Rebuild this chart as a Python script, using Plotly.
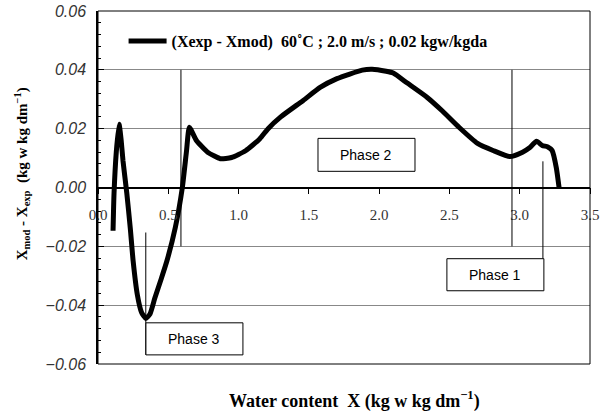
import plotly.graph_objects as go

# Water content X (kg w / kg dm)
x_vals = [0.107, 0.114, 0.13, 0.15, 0.165, 0.178, 0.205, 0.23, 0.25, 0.28, 0.31, 0.34,
          0.37, 0.405, 0.45, 0.49, 0.55, 0.60, 0.63, 0.65, 0.70, 0.78, 0.87, 0.95,
          1.05, 1.15, 1.21, 1.30, 1.46, 1.58, 1.70, 1.88, 1.95, 2.05, 2.10, 2.20,
          2.34, 2.45, 2.57, 2.70, 2.81, 2.93, 3.02, 3.07, 3.12, 3.16, 3.20, 3.23,
          3.26, 3.28]
# Xmod - Xexp
y_vals = [-0.0147, -0.002, 0.012, 0.0215, 0.016, 0.009, -0.002, -0.014, -0.025, -0.0365,
          -0.0425, -0.0445, -0.043, -0.0375, -0.031, -0.025, -0.0136, 0.0, 0.0126, 0.0205,
          0.016, 0.012, 0.0098, 0.0102, 0.0125, 0.0165, 0.020, 0.024, 0.0296, 0.034,
          0.037, 0.0399, 0.0402, 0.0395, 0.0389, 0.0355, 0.0307, 0.026, 0.0204, 0.015,
          0.0126, 0.0105, 0.012, 0.0135, 0.0157, 0.0143, 0.0138, 0.0126, 0.0068, 0.0]

series_name = "(Xexp - Xmod)  60˚C ; 2.0 m/s ; 0.02 kgw/kgda"
x_ticks = [0.0, 0.5, 1.0, 1.5, 2.0, 2.5, 3.0, 3.5]
x_tick_labels = ["0.0", "0.5", "1.0", "1.5", "2.0", "2.5", "3.0", "3.5"]
y_ticks = [-0.06, -0.04, -0.02, 0.0, 0.02, 0.04, 0.06]

# Phase separators: (x, y_top, y_bottom)
phase_lines = [(0.59, 0.04, -0.02), (2.945, 0.04, -0.02), (3.165, 0.0089, -0.0242), (0.34, -0.0153, -0.0569)]
# Phase boxes: (label, x0, x1, y0, y1)
phase_boxes = [("Phase 2", 1.565, 2.255, 0.0055, 0.0167),
               ("Phase 1", 2.482, 3.172, -0.0351, -0.0242),
               ("Phase 3", 0.341, 1.031, -0.0569, -0.046)]

serif = "Liberation Serif"
sans = "Liberation Sans"

fig = go.Figure()
fig.add_trace(go.Scatter(x=x_vals, y=y_vals, mode="lines", name=series_name,
                         line=dict(color="black", width=5, shape="spline", smoothing=0.5)))

shapes = []
annotations = []
for xv, y0, y1 in phase_lines:
    shapes.append(dict(type="line", xref="x", yref="y", x0=xv, x1=xv, y0=y0, y1=y1,
                       line=dict(color="black", width=1)))
for label, x0, x1, y0, y1 in phase_boxes:
    shapes.append(dict(type="rect", xref="x", yref="y", x0=x0, x1=x1, y0=y0, y1=y1,
                       line=dict(color="black", width=1), fillcolor="white", layer="above"))
    annotations.append(dict(text=label, x=(x0 + x1) / 2, y=(y0 + y1) / 2, xref="x", yref="y",
                            showarrow=False, font=dict(family=sans, size=14, color="black")))
# plot border
shapes.append(dict(type="rect", xref="paper", yref="paper", x0=0, x1=1, y0=0, y1=1,
                   line=dict(color="black", width=1)))

annotations.append(dict(text="Water content  X (kg w kg dm<sup>−1</sup>)", xref="paper", yref="paper",
                        x=0.522, y=-0.102, yanchor="middle", showarrow=False,
                        font=dict(family=serif, size=18, color="black", weight="bold")))
annotations.append(dict(text="X<sub>mod</sub> - X<sub>exp</sub>  (kg w kg dm<sup>−1</sup>)",
                        xref="paper", yref="paper", x=-0.1545, y=0.54, textangle=-90,
                        showarrow=False, xanchor="center", yanchor="middle",
                        font=dict(family=serif, size=15, color="black", weight="bold")))

fig.update_layout(
    width=602, height=417,
    margin=dict(l=98, r=12, t=11, b=53, autoexpand=False),
    paper_bgcolor="white", plot_bgcolor="white",
    showlegend=True,
    legend=dict(x=0.052, y=0.915, xanchor="left", yanchor="middle", bgcolor="rgba(0,0,0,0)",
                font=dict(family=serif, size=16, color="black", weight="bold"),
                itemwidth=38),
    shapes=shapes, annotations=annotations,
    xaxis=dict(range=[0, 3.5], tickvals=x_ticks, ticktext=x_tick_labels, automargin=False,
               anchor="free", position=0.5, showline=True, linecolor="black", linewidth=1.5,
               ticks="outside", ticklen=6, tickcolor="black", showgrid=False, zeroline=False,
               ticklabelstandoff=8,
               tickfont=dict(family=serif, size=15, color="#333")),
    yaxis=dict(range=[-0.06, 0.06], tickvals=y_ticks, tickformat=".2f", automargin=False,
               showline=True, linecolor="black", linewidth=1.5,
               ticks="inside", ticklen=6, tickcolor="black", ticklabelstandoff=7,
               minor=dict(dtick=0.004, ticks="inside", ticklen=3, tickcolor="black", showgrid=False),
               showgrid=True, gridcolor="#888", gridwidth=1,
               zeroline=True, zerolinecolor="black", zerolinewidth=1.5,
               tickfont=dict(family=sans, size=16, color="#333", style="italic")),
)

fig.write_html("out.html")
